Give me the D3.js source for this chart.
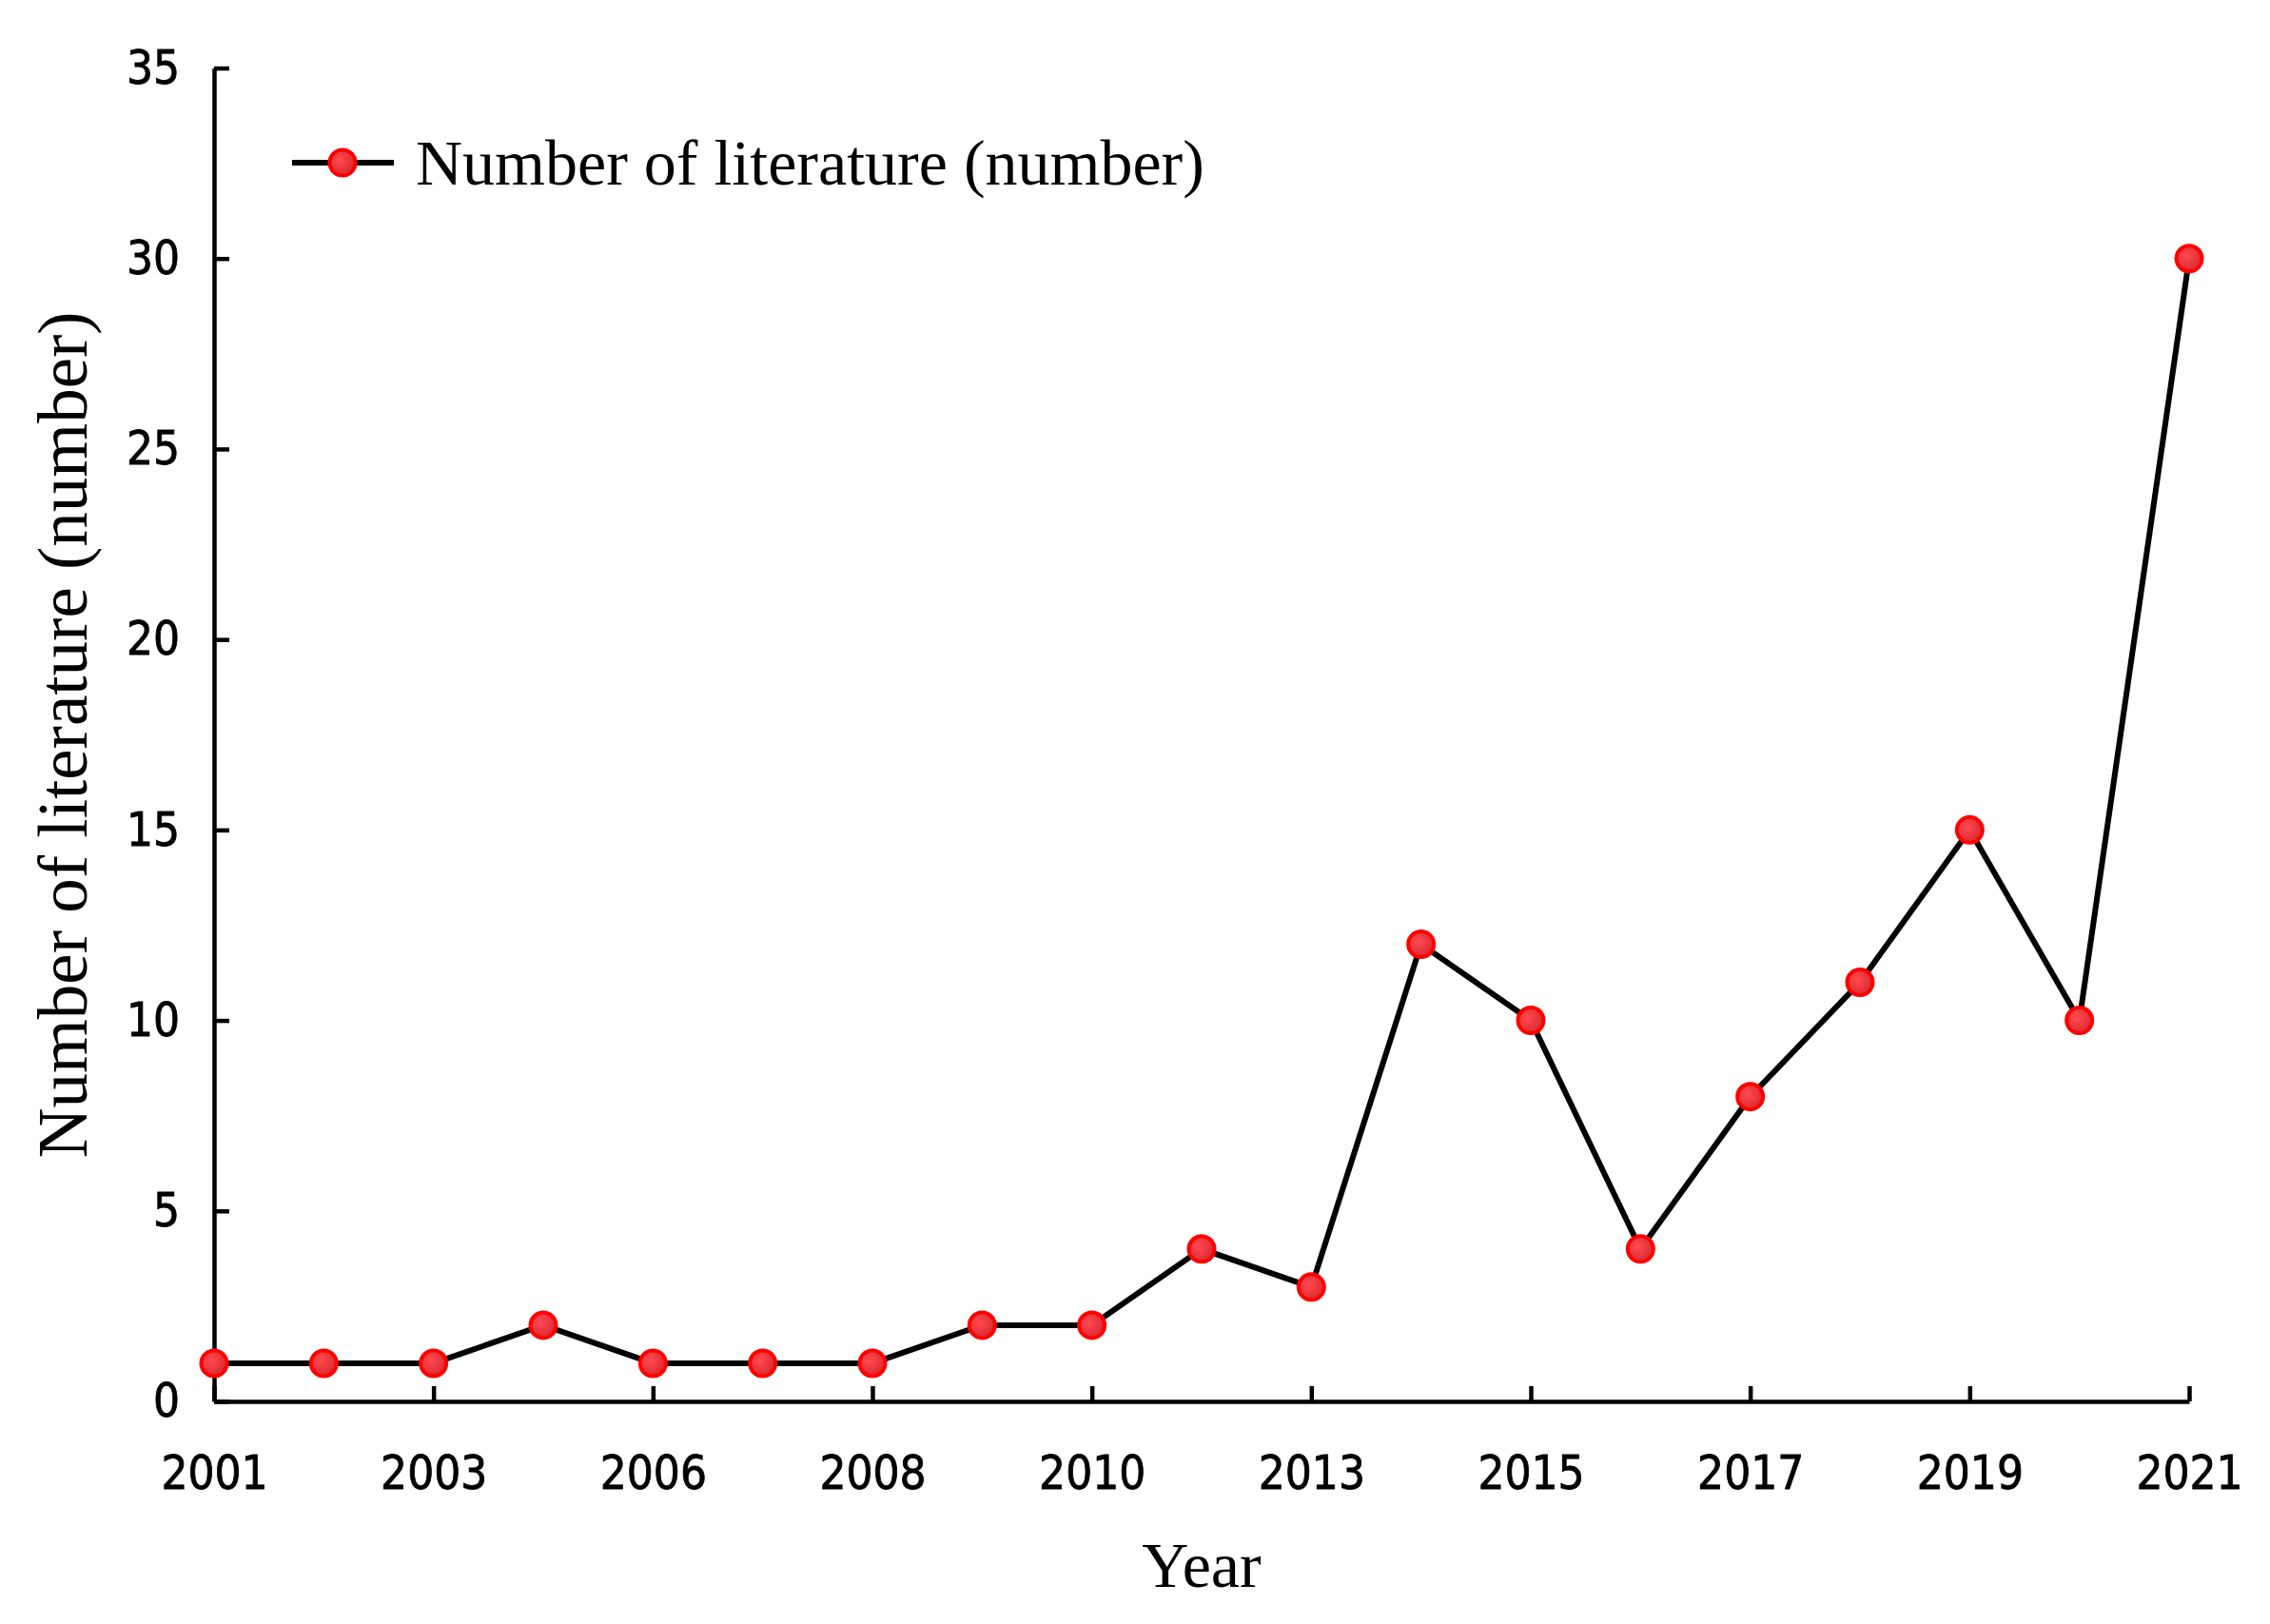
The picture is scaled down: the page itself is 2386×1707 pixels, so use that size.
<!DOCTYPE html>
<html>
<head>
<meta charset="utf-8">
<script src="https://d3js.org/d3.v7.min.js"></script>
<style>
  html, body { margin: 0; padding: 0; background: #fff; }
  svg { display: block; }
</style>
</head>
<body>
<script>
// ---- data ----
const years = ["2001","2002","2003","2005","2006","2007","2008","2009","2010","2012","2013","2014","2015","2016","2017","2018","2019","2020","2021"];
const literatureCounts = [1,1,1,2,1,1,1,2,2,4,3,12,10,4,8,11,15,10,30];
const xTickLabels = ["2001","2003","2006","2008","2010","2013","2015","2017","2019","2021"];
const yTicks = [0,5,10,15,20,25,30,35];
const seriesName = "Number of literature (number)";
const xTitle = "Year";
const yTitle = "Number of literature (number)";

// ---- layout ----
const W = 2386, H = 1707;
const mLeft = 225, mRight = 2301, mTop = 71.5, mBottom = 1473;
const tickFont = "'DejaVu Sans Condensed', 'DejaVu Sans', sans-serif";
const serifFont = "'Liberation Serif', 'Times New Roman', serif";

const svg = d3.select("body").append("svg").attr("width", W).attr("height", H);

const x = d3.scalePoint().domain(years).range([mLeft, mRight]);
const y = d3.scaleLinear().domain([0, 35]).range([mBottom, mTop]);

// y axis
const yAxis = svg.append("g").attr("transform", `translate(${mLeft},0)`)
  .call(d3.axisLeft(y).tickValues(yTicks).tickSize(-16).tickSizeOuter(0).tickPadding(36));
yAxis.select(".domain").attr("stroke", "#000").attr("stroke-width", 4.5);
yAxis.selectAll(".tick line").attr("stroke", "#000").attr("stroke-width", 4.5);
yAxis.selectAll("text").attr("font-family", tickFont).attr("font-size", 49).attr("fill", "#000")
  .attr("font-stretch", "condensed").attr("stroke", "#000").attr("stroke-width", 0.8);

// x axis
const xAxis = svg.append("g").attr("transform", `translate(0,${mBottom})`)
  .call(d3.axisBottom(x).tickValues(xTickLabels).tickSize(-16).tickSizeOuter(0).tickPadding(57));
xAxis.select(".domain").attr("stroke", "#000").attr("stroke-width", 4.5);
xAxis.selectAll(".tick line").attr("stroke", "#000").attr("stroke-width", 4.5);
xAxis.selectAll("text").attr("font-family", tickFont).attr("font-size", 49).attr("fill", "#000")
  .attr("font-stretch", "condensed").attr("stroke", "#000").attr("stroke-width", 0.8);

// axis titles
svg.append("text").attr("x", (mLeft + mRight) / 2).attr("y", 1668)
  .attr("text-anchor", "middle").attr("font-family", serifFont).attr("font-size", 68).attr("fill", "#000")
  .text(xTitle);
svg.append("text").attr("transform", `translate(91,${(mTop + mBottom) / 2}) rotate(-90)`)
  .attr("text-anchor", "middle").attr("font-family", serifFont).attr("font-size", 73).attr("fill", "#000")
  .text(yTitle);

// gradient for markers
const defs = svg.append("defs");
const grad = defs.append("radialGradient").attr("id", "mk").attr("cx", "40%").attr("cy", "40%").attr("r", "65%");
grad.append("stop").attr("offset", "0%").attr("stop-color", "#ff4a50");
grad.append("stop").attr("offset", "100%").attr("stop-color", "#d8282e");

// line
const line = d3.line().x((d, i) => x(years[i])).y(d => y(d));
svg.append("path").datum(literatureCounts).attr("d", line)
  .attr("fill", "none").attr("stroke", "#000").attr("stroke-width", 6).attr("stroke-linejoin", "miter");

// markers
svg.append("g").selectAll("circle").data(literatureCounts).join("circle")
  .attr("cx", (d, i) => x(years[i])).attr("cy", d => y(d)).attr("r", 13.5)
  .attr("fill", "url(#mk)").attr("stroke", "#ff0000").attr("stroke-width", 4);

// legend
const lg = svg.append("g");
lg.append("line").attr("x1", 307).attr("x2", 414).attr("y1", 171).attr("y2", 171)
  .attr("stroke", "#000").attr("stroke-width", 6);
lg.append("circle").attr("cx", 360).attr("cy", 171).attr("r", 13.5)
  .attr("fill", "url(#mk)").attr("stroke", "#ff0000").attr("stroke-width", 4);
lg.append("text").attr("x", 437).attr("y", 194).attr("font-family", serifFont).attr("font-size", 68)
  .attr("fill", "#000").text(seriesName);
</script>
</body>
</html>
